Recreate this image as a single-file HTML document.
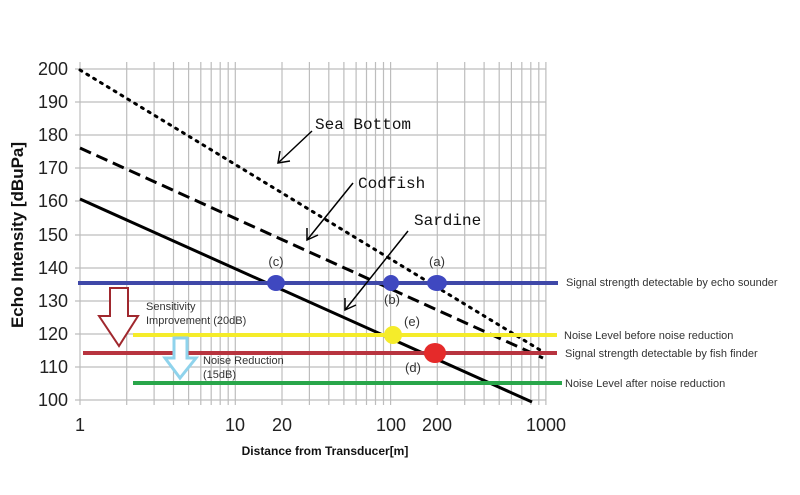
<!DOCTYPE html>
<html><head><meta charset="utf-8"><style>
body{margin:0;background:#fff;}
svg{display:block;font-family:"Liberation Sans",sans-serif;}
</style></head><body>
<svg width="800" height="495" viewBox="0 0 800 495" xmlns="http://www.w3.org/2000/svg">
<rect width="800" height="495" fill="#fff"/>
<g stroke="#bdbdbd" stroke-width="1.2">
<line x1="75" y1="69" x2="546" y2="69"/><line x1="75" y1="102" x2="546" y2="102"/><line x1="75" y1="135" x2="546" y2="135"/><line x1="75" y1="168" x2="546" y2="168"/><line x1="75" y1="201" x2="546" y2="201"/><line x1="75" y1="235" x2="546" y2="235"/><line x1="75" y1="268" x2="546" y2="268"/><line x1="75" y1="301" x2="546" y2="301"/><line x1="75" y1="334" x2="546" y2="334"/><line x1="75" y1="367" x2="546" y2="367"/><line x1="75" y1="400" x2="546" y2="400"/>
<line x1="80" y1="62" x2="80" y2="405"/><line x1="126.7" y1="62" x2="126.7" y2="405"/><line x1="154.1" y1="62" x2="154.1" y2="405"/><line x1="173.5" y1="62" x2="173.5" y2="405"/><line x1="188.6" y1="62" x2="188.6" y2="405"/><line x1="200.8" y1="62" x2="200.8" y2="405"/><line x1="211.2" y1="62" x2="211.2" y2="405"/><line x1="220.2" y1="62" x2="220.2" y2="405"/><line x1="228.2" y1="62" x2="228.2" y2="405"/>
<line x1="235.3" y1="62" x2="235.3" y2="405"/><line x1="282" y1="62" x2="282" y2="405"/><line x1="309.4" y1="62" x2="309.4" y2="405"/><line x1="328.8" y1="62" x2="328.8" y2="405"/><line x1="343.9" y1="62" x2="343.9" y2="405"/><line x1="356.1" y1="62" x2="356.1" y2="405"/><line x1="366.5" y1="62" x2="366.5" y2="405"/><line x1="375.5" y1="62" x2="375.5" y2="405"/><line x1="383.5" y1="62" x2="383.5" y2="405"/>
<line x1="390.6" y1="62" x2="390.6" y2="405"/><line x1="437.3" y1="62" x2="437.3" y2="405"/><line x1="464.7" y1="62" x2="464.7" y2="405"/><line x1="484.1" y1="62" x2="484.1" y2="405"/><line x1="499.2" y1="62" x2="499.2" y2="405"/><line x1="511.4" y1="62" x2="511.4" y2="405"/><line x1="521.8" y1="62" x2="521.8" y2="405"/><line x1="530.8" y1="62" x2="530.8" y2="405"/><line x1="538.8" y1="62" x2="538.8" y2="405"/><line x1="545.9" y1="62" x2="545.9" y2="405"/>
</g>
<g font-size="18" fill="#222" text-anchor="end">
<text x="68" y="75">200</text><text x="68" y="108">190</text><text x="68" y="141">180</text><text x="68" y="174">170</text><text x="68" y="207">160</text><text x="68" y="241">150</text><text x="68" y="274">140</text><text x="68" y="307">130</text><text x="68" y="340">120</text><text x="68" y="373">110</text><text x="68" y="406">100</text>
</g>
<g font-size="18" fill="#222" text-anchor="middle">
<text x="80" y="431">1</text><text x="235" y="431">10</text><text x="282" y="431">20</text><text x="391" y="431">100</text><text x="437" y="431">200</text><text x="546" y="431">1000</text>
</g>
<text x="325" y="455" font-size="12" font-weight="bold" text-anchor="middle" fill="#111">Distance from Transducer[m]</text>
<text transform="translate(23,235) rotate(-90)" font-size="17" font-weight="bold" text-anchor="middle" fill="#111">Echo Intensity [dBuPa]</text>
<line x1="80" y1="70" x2="545" y2="353" stroke="#000" stroke-width="3" stroke-dasharray="2,6" stroke-linecap="round"/>
<line x1="80" y1="148" x2="543" y2="358" stroke="#000" stroke-width="3" stroke-dasharray="12,6"/>
<line x1="80" y1="199" x2="532" y2="402" stroke="#000" stroke-width="3"/>
<line x1="78" y1="283" x2="558" y2="283" stroke="#3f48a8" stroke-width="4"/>
<line x1="133" y1="335" x2="557" y2="335" stroke="#f5ec2a" stroke-width="4"/>
<line x1="83" y1="353" x2="557" y2="353" stroke="#b8343f" stroke-width="4"/>
<line x1="133" y1="383" x2="562" y2="383" stroke="#29a64a" stroke-width="4"/>
<ellipse cx="276" cy="283" rx="9" ry="8" fill="#3f48c0"/>
<ellipse cx="391" cy="283" rx="8" ry="8" fill="#3f48c0"/>
<ellipse cx="437" cy="283" rx="10" ry="8" fill="#3f48c0"/>
<ellipse cx="393" cy="335" rx="9" ry="9" fill="#f5ec2a"/>
<ellipse cx="435" cy="353" rx="11" ry="10" fill="#e52a2a"/>
<g font-size="13" fill="#333" text-anchor="middle">
<text x="276" y="266">(c)</text><text x="437" y="266">(a)</text><text x="392" y="304">(b)</text><text x="412" y="326">(e)</text><text x="413" y="372">(d)</text>
</g>
<g stroke="#000" stroke-width="1.5" fill="none">
<line x1="312" y1="131" x2="278" y2="163"/><polyline points="280,151 278,163 290,161"/>
<line x1="353" y1="183" x2="307" y2="240"/><polyline points="307,228 307,240 318,235"/>
<line x1="408" y1="231" x2="345" y2="310"/><polyline points="345,298 345,310 356,305"/>
</g>
<g font-family="Liberation Mono,monospace" font-size="16" fill="#111">
<text x="315" y="129">Sea Bottom</text><text x="358" y="188">Codfish</text><text x="414" y="225">Sardine</text>
</g>
<polygon points="110,288 128,288 128,316 138,316 119,346 99,316 110,316" fill="#fff" stroke="#a0282e" stroke-width="2"/>
<polygon points="174,338 187,338 187,358 196,358 180,378 165,358 174,358" fill="#fff" stroke="#8fd3ec" stroke-width="3"/>
<g font-size="11" fill="#333">
<text x="146" y="310">Sensitivity</text><text x="146" y="324">Improvement (20dB)</text>
<text x="203" y="364">Noise Reduction</text><text x="203" y="378">(15dB)</text>
<text x="566" y="286">Signal strength detectable by echo sounder</text>
<text x="564" y="339">Noise Level before noise reduction</text>
<text x="565" y="357">Signal strength detectable by  fish finder</text>
<text x="565" y="387">Noise Level after noise reduction</text>
</g>
</svg>
</body></html>
